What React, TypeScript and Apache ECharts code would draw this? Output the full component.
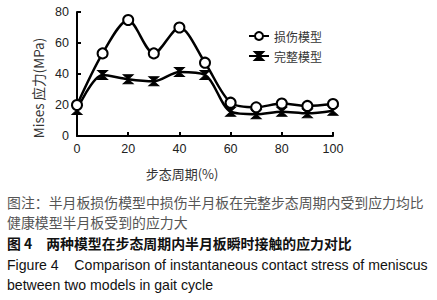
import React, { useEffect, useRef } from "react";
import * as echarts from "echarts";

const xValues = [0, 10, 20, 30, 40, 50, 60, 70, 80, 90, 100];
const injured = [20, 53.3, 74.8, 53.3, 70, 47.3, 21.5, 18.5, 21, 19.4, 20.6];
const intact = [16.8, 39.4, 36.6, 35.3, 41.3, 39.4, 15.7, 14, 15.7, 14.6, 16.3];
const seriesNames = ["损伤模型", "完整模型"];
const yAxisName = "Mises 应力(MPa)";
const xAxisName = "步态周期(%)";
const captionLines = [
  "图注：半月板损伤模型中损伤半月板在完整步态周期内受到应力均比",
  "健康模型半月板受到的应力大",
  "图 4　两种模型在步态周期内半月板瞬时接触的应力对比",
  "Figure 4    Comparison of instantaneous contact stress of meniscus",
  "between two models in gait cycle",
];

const hourglass = "path://M0,0 L10,0 L0,10 L10,10 Z";

export default function App() {
  const ref = useRef<HTMLDivElement>(null);
  useEffect(() => {
    if (!ref.current) return;
    const chart = echarts.init(ref.current, null, { renderer: "svg" });
    const cjk = '"Noto Sans CJK SC", sans-serif';
    const latin = '"Liberation Sans", Arial, sans-serif';
    const captionTops = [195, 215, 236, 258, 278];
    chart.setOption({
      animation: false,
      backgroundColor: "#ffffff",
      grid: { left: 77, right: 104, top: 12, bottom: 164, containLabel: false },
      legend: {
        orient: "vertical",
        left: 243,
        top: 25,
        itemWidth: 20,
        itemHeight: 10,
        itemGap: 8,
        textStyle: { fontFamily: cjk, fontSize: 12, color: "#333" },
        data: seriesNames,
      },
      xAxis: {
        type: "value",
        min: 0,
        max: 100,
        interval: 20,
        axisLine: { lineStyle: { color: "#000", width: 2 } },
        axisTick: { inside: true, length: 4, lineStyle: { color: "#000", width: 2 } },
        axisLabel: { fontFamily: latin, fontSize: 12.5, color: "#222", margin: 6 },
        splitLine: { show: false },
      },
      yAxis: {
        type: "value",
        min: 0,
        max: 80,
        interval: 20,
        axisLine: { show: true, lineStyle: { color: "#000", width: 2 } },
        axisTick: { show: true, inside: true, length: 4, lineStyle: { color: "#000", width: 2 } },
        axisLabel: { fontFamily: latin, fontSize: 12.5, color: "#222", margin: 8 },
        splitLine: { show: false },
      },
      series: [
        {
          name: seriesNames[0],
          type: "line",
          smooth: 0.3,
          data: xValues.map((x, i) => [x, injured[i]]),
          symbol: "circle",
          symbolSize: 10,
          lineStyle: { color: "#000", width: 2.5 },
          itemStyle: { color: "#fff", borderColor: "#000", borderWidth: 2 },
          z: 3,
        },
        {
          name: seriesNames[1],
          type: "line",
          smooth: 0.3,
          data: xValues.map((x, i) => [x, intact[i]]),
          symbol: hourglass,
          symbolSize: [10, 9],
          lineStyle: { color: "#000", width: 2.5 },
          itemStyle: { color: "#000", borderColor: "#000", borderWidth: 1 },
          z: 2,
        },
      ],
      graphic: [
        {
          type: "text",
          x: 38,
          y: 88,
          rotation: Math.PI / 2,
          style: {
            text: yAxisName,
            fontFamily: cjk,
            fontSize: 13.5,
            fill: "#333",
            align: "center",
            verticalAlign: "middle",
          },
        },
        {
          type: "text",
          x: 182,
          y: 173,
          style: {
            text: xAxisName,
            fontFamily: cjk,
            fontSize: 13,
            fill: "#333",
            align: "center",
            verticalAlign: "middle",
          },
        },
        ...captionLines.map((t, i) => ({
          type: "text",
          left: 7,
          top: captionTops[i],
          style: {
            text: t,
            fontFamily: i < 3 ? cjk : latin,
            fontSize: i < 3 ? 13.9 : 14.1,
            fontWeight: i === 2 ? "bold" : "normal",
            fill: i < 2 ? "#555" : "#111",
          },
        })),
      ],
    });
    return () => chart.dispose();
  }, []);
  return (
    <div
      ref={ref}
      style={{ position: "absolute", left: 0, top: 0, width: 437, height: 300 }}
    />
  );
}
